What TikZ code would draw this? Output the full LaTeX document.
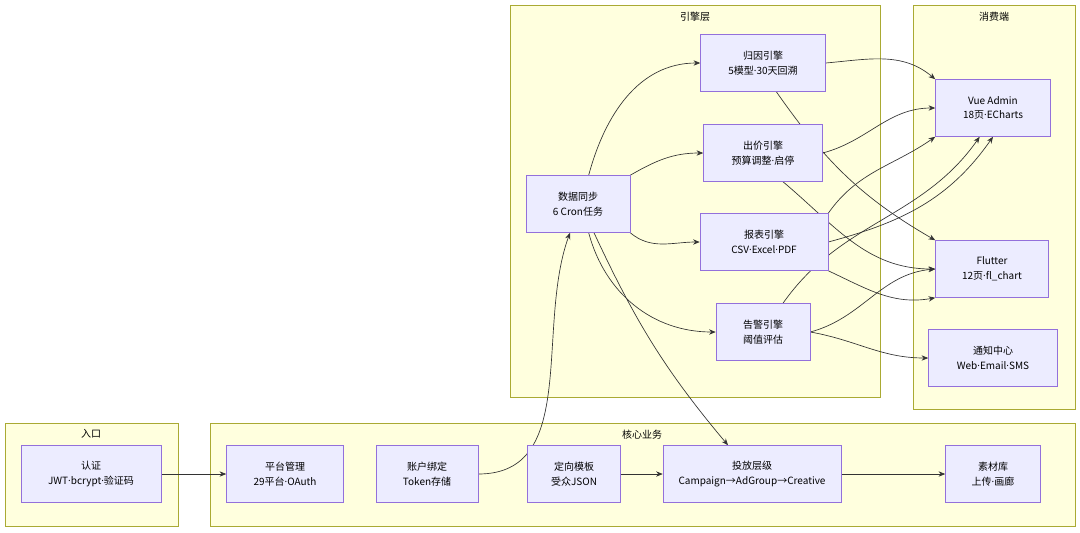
\documentclass[tikz,border=0pt]{standalone}
\usepackage{fontspec}
\setmainfont{Noto Sans CJK SC}
\newfontfamily\latinfont{Open Sans}
\newcommand{\md}{{\latinfont ·}}
\usetikzlibrary{arrows.meta}
\pgfdeclarelayer{bg}
\pgfdeclarelayer{edges}
\pgfsetlayers{bg,edges,main}
\definecolor{boxfill}{HTML}{ECECFF}
\definecolor{boxline}{HTML}{9370DB}
\definecolor{grpfill}{HTML}{FFFFDE}
\definecolor{grpline}{HTML}{AAAA33}
\tikzset{
  box/.style={draw=boxline,fill=boxfill,align=center,font=\fontsize{7.5}{11}\selectfont,inner sep=0pt},
  grp/.style={draw=grpline,fill=grpfill},
  grplabel/.style={font=\fontsize{7.5}{9}\selectfont,anchor=north},
  link/.style={draw=black!80,line width=0.5pt,-{Stealth[length=5pt,width=4pt]}}
}
\begin{document}
\begin{tikzpicture}[x=0.75pt,y=-0.75pt]
\useasboundingbox (0,0) rectangle (1080,532);

% -- groups
\begin{pgfonlayer}{bg}
\draw[grp] (510,5) rectangle (880,397);
\draw[grp] (913,5) rectangle (1075,409);
\draw[grp] (5,423) rectangle (178,526);
\draw[grp] (210,423) rectangle (1075,526);
\end{pgfonlayer}
\node[grplabel] (gEngine) at (695,7) {引擎层};
\node[grplabel] (gClient) at (994,7) {消费端};
\node[grplabel] (gEntry) at (91,425) {入口};
\node[grplabel] (gCore) at (642,425) {核心业务};

% -- engine layer
\node[box,minimum width=125*0.75pt,minimum height=57*0.75pt] (attr) at (763,63) {归因引擎\\5模型\md{}30天回溯};
\node[box,minimum width=119*0.75pt,minimum height=57*0.75pt] (bid) at (763,153) {出价引擎\\预算调整\md{}启停};
\node[box,minimum width=104*0.75pt,minimum height=57*0.75pt] (sync) at (578,204) {数据同步\\6 Cron任务};
\node[box,minimum width=128*0.75pt,minimum height=57*0.75pt] (report) at (764,242) {报表引擎\\CSV\md{}Excel\md{}PDF};
\node[box,minimum width=94*0.75pt,minimum height=57*0.75pt] (alert) at (763,332) {告警引擎\\阈值评估};

% -- clients
\node[box,minimum width=115*0.75pt,minimum height=57*0.75pt] (vue) at (993,108) {Vue Admin\\18页\md{}ECharts};
\node[box,minimum width=113*0.75pt,minimum height=57*0.75pt] (flutter) at (992,269) {Flutter\\12页\md{}fl\_chart};
\node[box,minimum width=129*0.75pt,minimum height=57*0.75pt] (notify) at (993,358) {通知中心\\Web\md{}Email\md{}SMS};

% -- entry and core
\node[box,minimum width=140*0.75pt,minimum height=57*0.75pt] (auth) at (91,474) {认证\\JWT\md{}bcrypt\md{}验证码};
\node[box,minimum width=117*0.75pt,minimum height=57*0.75pt] (platform) at (285,474) {平台管理\\29平台\md{}OAuth};
\node[box,minimum width=102*0.75pt,minimum height=57*0.75pt] (account) at (427,474) {账户绑定\\Token存储};
\node[box,minimum width=93*0.75pt,minimum height=57*0.75pt] (target) at (574,474) {定向模板\\受众JSON};
\node[box,minimum width=178*0.75pt,minimum height=57*0.75pt] (deliver) at (752,474) {投放层级\\Campaign→AdGroup→Creative};
\node[box,minimum width=95*0.75pt,minimum height=57*0.75pt] (material) at (993,474) {素材库\\上传\md{}画廊};

% -- arrows
\begin{pgfonlayer}{edges}
\draw[link] (auth) -- (platform);
\draw[link] (account.east) to[out=0,in=250] ([xshift=-6pt]sync.south);
\draw[link] (target) -- (deliver);
\draw[link] (deliver) -- (material);

\draw[link] ([xshift=8pt]sync.north) to[out=75,in=180] (attr.west);
\draw[link] (sync.north east) to[out=30,in=180] (bid.west);
\draw[link] (sync.south east) to[out=-40,in=180] (report.west);
\draw[link] ([xshift=8pt]sync.south) to[out=-75,in=180] (alert.west);
\draw[link] ([xshift=12pt]sync.south) to[out=-65,in=130] ([xshift=-18pt]deliver.north);

\draw[link] (attr.east) to[out=5,in=140] (vue.north west);
\draw[link] ([xshift=10pt]attr.south) to[out=-55,in=150] (flutter.north west);
\draw[link] (bid.east) to[out=15,in=180] (vue.west);
\draw[link] ([xshift=15pt]bid.south) to[out=-40,in=180] (flutter.west);
\draw[link] (report.north east) to[out=55,in=215] (vue.south west);
\draw[link] (report.east) to[out=15,in=235] (vue.south);
\draw[link] (report.south east) to[out=-25,in=190] (flutter.south west);
\draw[link] ([xshift=15pt]alert.north) to[out=55,in=-125] ([xshift=-10pt]vue.south);
\draw[link] (alert.east) to[out=15,in=185] (flutter.west);
\draw[link] (alert.east) to[out=-10,in=180] (notify.west);
\end{pgfonlayer}
\end{tikzpicture}
\end{document}
